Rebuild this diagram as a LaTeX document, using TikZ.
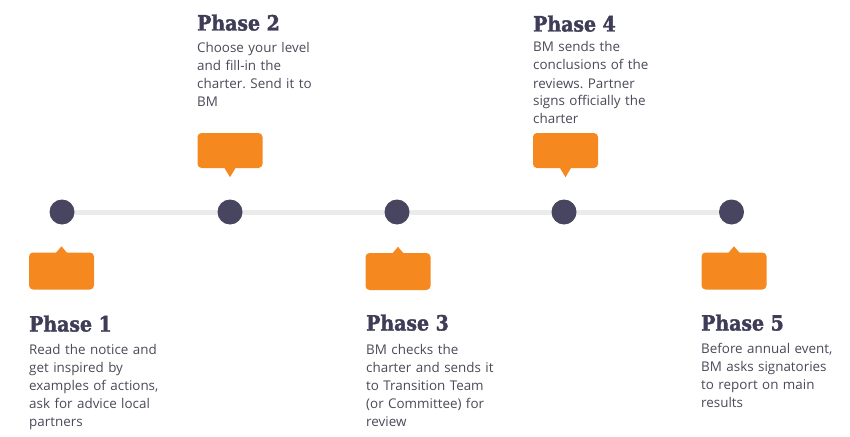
\documentclass[tikz,border=0pt]{standalone}
\usepackage{fontspec}
\usetikzlibrary{backgrounds}
\setmainfont{Open Sans}
\newfontfamily\headfont[FakeStretch=0.9,FakeBold=1.8]{DejaVu Serif}
\definecolor{orangec}{HTML}{F5891F}
\definecolor{dotc}{HTML}{47455F}
\definecolor{headc}{HTML}{3E3C57}
\definecolor{bodyc}{HTML}{4A4958}
\definecolor{linec}{HTML}{EBEBEB}
\frenchspacing
\begin{document}
\begin{tikzpicture}[x=1pt,y=-1pt,
  dotnode/.style={circle, fill=dotc, minimum size=25pt, inner sep=0pt},
  callout/.style={fill=orangec, rounded corners=4pt, minimum width=65pt, minimum height=37pt, inner sep=0pt},
  head/.style={anchor=base west, inner sep=0pt, font=\headfont\bfseries\fontsize{21}{24}\selectfont, text=headc},
  body/.style={anchor=base west, inner sep=0pt, text width=140pt, align=left, font=\frenchspacing\fontsize{13.4}{18}\selectfont, text=bodyc},
  pointer/.style={fill=orangec}]
\useasboundingbox (0,0) rectangle (850,436);

% dots
\node[dotnode] (d1) at (62,212) {};
\node[dotnode] (d2) at (230,212) {};
\node[dotnode] (d3) at (397,212) {};
\node[dotnode] (d4) at (564,212) {};
\node[dotnode] (d5) at (731.5,212) {};
\begin{scope}[on background layer]
\draw[linec, line width=5pt] (d1.center) -- (d5.center);
\end{scope}

% callouts below (pointer up)
\node[callout] (b1) at (61.5,271) {};
\node[callout] (b3) at (398,271.5) {};
\node[callout] (b5) at (734,271) {};
\fill[pointer] (b1.north) ++(-6,1) -- ++(6,-7) -- ++(6,7) -- cycle;
\fill[pointer] (b3.north) ++(-6,1) -- ++(6,-7) -- ++(6,7) -- cycle;
\fill[pointer] (b5.north) ++(-6,1) -- ++(6,-7) -- ++(6,7) -- cycle;
% callouts above (pointer down)
\node[callout, minimum height=35pt] (b2) at (230,150.5) {};
\node[callout, minimum height=35pt] (b4) at (565.5,150.5) {};
\fill[pointer] (b2.south) ++(-6,-1) -- ++(6,10) -- ++(6,-10) -- cycle;
\fill[pointer] (b4.south) ++(-6,-1) -- ++(6,10) -- ++(6,-10) -- cycle;

% headings
\node[head] (h1) at (29,331.5) {Phase 1};
\node[head] (h2) at (197,30.5) {Phase 2};
\node[head] (h3) at (366,330.5) {Phase 3};
\node[head] (h4) at (533,31.5) {Phase 4};
\node[head] (h5) at (701,330.5) {Phase 5};

% texts
\node[body] (t1) at (29,354) {Read the notice and\\get inspired by\\examples of actions,\\ask for advice local\\partners};
\node[body] (t2) at (197,52.5) {Choose your level\\and fill-in the\\charter. Send it to\\BM};
\node[body] (t3) at (366,354) {BM checks the\\charter and sends it\\to Transition Team\\(or Committee) for\\review};
\node[body] (t4) at (533,52) {BM sends the\\conclusions of the\\reviews. Partner\\signs officially the\\charter};
\node[body] (t5) at (701,353) {Before annual event,\\BM asks signatories\\to report on main\\results};
\end{tikzpicture}
\end{document}
